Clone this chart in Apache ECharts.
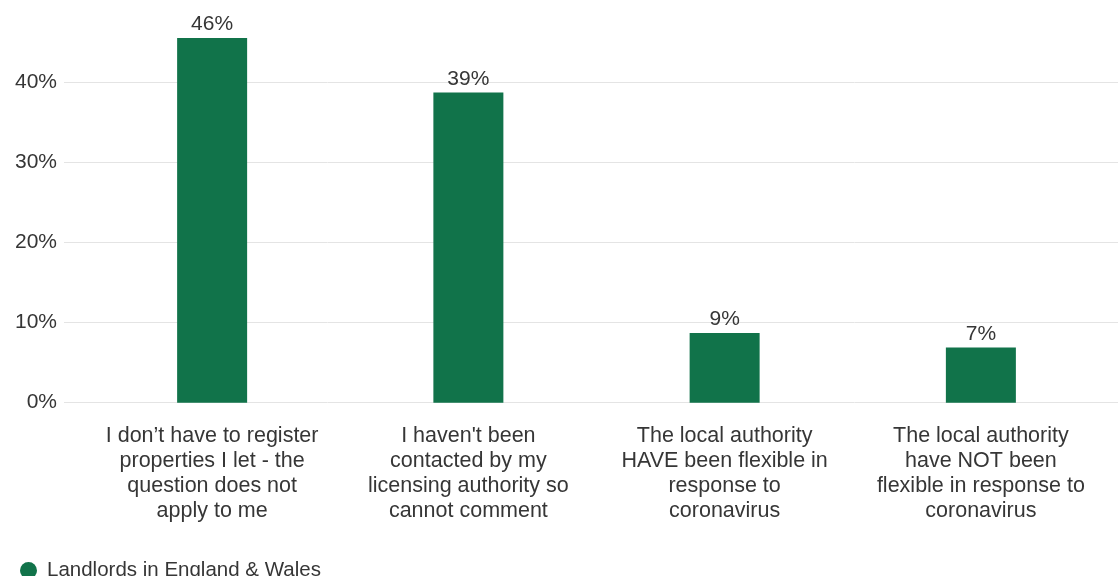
<!DOCTYPE html>
<html>
<head>
<meta charset="utf-8">
<script src="https://cdn.jsdelivr.net/npm/echarts@6/dist/echarts.min.js"></script>
<style>
  html, body { margin: 0; padding: 0; background: #fff; }
  #chart { width: 1118px; height: 576px; }
</style>
</head>
<body>
<div id="chart"></div>
<script>
// categories (line breaks as in the picture)
var categories = [
  'I don\u2019t have to register\nproperties I let - the\nquestion does not\napply to me',
  'I haven\'t been\ncontacted by my\nlicensing authority so\ncannot comment',
  'The local authority\nHAVE been flexible in\nresponse to\ncoronavirus',
  'The local authority\nhave NOT been\nflexible in response to\ncoronavirus'
];
var seriesName = 'Landlords in England & Wales';
var values = [45.5, 38.7, 8.7, 6.9];
var yTicks = [0, 10, 20, 30, 40];

var green = '#11734a';
var textColor = '#363636';
var font = 'Liberation Sans, Arial, sans-serif';

var myChart = echarts.init(document.getElementById('chart'));

var option = {
  animation: false,
  textStyle: { fontFamily: font },
  legend: {
    data: [seriesName],
    left: 15,
    top: 555,
    icon: 'circle',
    itemWidth: 17,
    itemHeight: 17,
    textStyle: { fontSize: 20.5, color: textColor, padding: [0, 0, 0, 5] }
  },
  grid: [
    // background grid for gridlines and tick labels (wider than the bars)
    { left: 64, right: 0, top: 2, bottom: 173.3 },
    // grid holding the bars
    { left: 84, right: 9, top: 2, bottom: 173.3 }
  ],
  xAxis: [
    { gridIndex: 0, type: 'category', data: categories, show: false },
    {
      gridIndex: 1,
      type: 'category',
      data: categories,
      axisLine: { show: false },
      axisTick: { show: false },
      axisLabel: {
        interval: 0,
        margin: 21,
        fontSize: 21.5,
        lineHeight: 25,
        color: textColor,
        align: 'center'
      }
    }
  ],
  yAxis: [
    {
      gridIndex: 0,
      type: 'value',
      min: 0,
      max: 50,
      interval: 10,
      axisLine: { show: false },
      axisTick: { show: false },
      axisLabel: {
        margin: 7,
        fontSize: 21,
        color: textColor,
        padding: [6, 0, 0, 0],
        showMaxLabel: false,
        formatter: function (v) { return yTicks.indexOf(v) >= 0 ? v + '%' : ''; }
      },
      splitLine: { show: true, showMaxLine: false, lineStyle: { color: '#e4e4e4', width: 1 } }
    },
    {
      gridIndex: 1,
      type: 'value',
      min: 0,
      max: 50,
      interval: 10,
      show: false
    }
  ],
  series: [
    {
      name: seriesName,
      type: 'bar',
      xAxisIndex: 1,
      yAxisIndex: 1,
      data: values,
      barWidth: 70,
      itemStyle: { color: green },
      label: {
        show: true,
        position: 'top',
        distance: 3,
        fontSize: 21,
        color: textColor,
        formatter: function (p) { return Math.round(p.value) + '%'; }
      }
    }
  ]
};

myChart.setOption(option);
</script>
</body>
</html>
